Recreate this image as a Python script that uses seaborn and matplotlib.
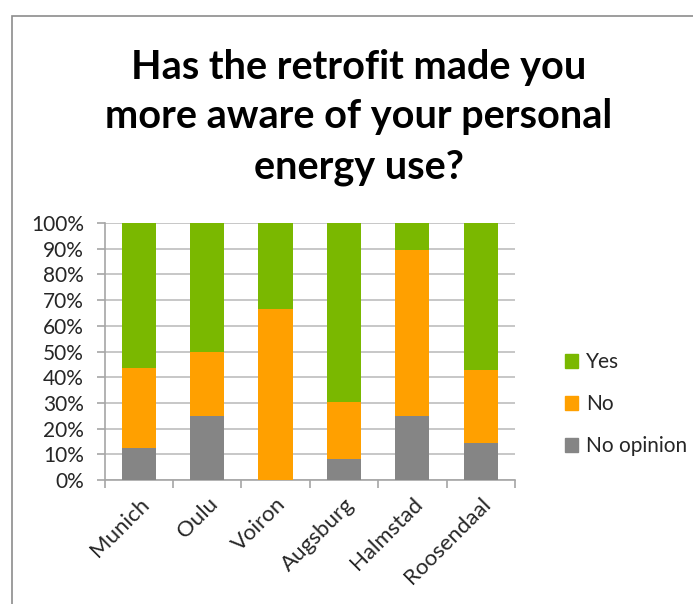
import matplotlib
matplotlib.use("Agg")
import matplotlib.pyplot as plt
import matplotlib.patches as mpatches
from matplotlib.ticker import FixedLocator
import seaborn as sns
import pandas as pd
import numpy as np

cities = ["Munich", "Oulu", "Voiron", "Augsburg", "Halmstad", "Roosendaal"]
no_opinion = [12.5, 25.0, 0.0, 8.3, 25.0, 14.3]
no = [31.25, 25.0, 66.7, 22.0, 64.3, 28.6]
yes = [56.25, 50.0, 33.3, 69.7, 10.7, 57.1]
series_names = ["Yes", "No", "No opinion"]
colors = {"Yes": "#7AB800", "No": "#FFA000", "No opinion": "#858585"}

sns.set_theme(style="white")
plt.rcParams["font.family"] = ["Lato", "DejaVu Sans"]

fig = plt.figure(figsize=(6.93, 6.04), dpi=100)
ax = fig.add_axes([0.151, 0.205, 0.592, 0.426])

df = pd.DataFrame({"city": cities, "No opinion": no_opinion, "No": no, "Yes": yes})
df["c_gray"] = df["No opinion"]
df["c_no"] = df["No opinion"] + df["No"]
df["c_yes"] = df["c_no"] + df["Yes"]

for col, name in [("c_yes", "Yes"), ("c_no", "No"), ("c_gray", "No opinion")]:
    sns.barplot(data=df, x="city", y=col, color=colors[name], width=0.5,
                saturation=1, ax=ax, zorder=3, linewidth=0)

ax.set_ylim(0, 100)
ax.set_xlim(-0.5, len(cities) - 0.5)
ax.set_yticks(np.arange(0, 101, 10))
ax.set_yticklabels([f"{v}%" for v in range(0, 101, 10)], fontsize=15, color="#262626")
ax.yaxis.grid(True, color="#BEBEBE", linewidth=1.2, zorder=0)
ax.set_axisbelow(True)
ax.set_xlabel("")
ax.set_ylabel("")
for s in ["top", "right"]:
    ax.spines[s].set_visible(False)
for s in ["left", "bottom"]:
    ax.spines[s].set_color("#A6A6A6")
    ax.spines[s].set_linewidth(1.2)
ax.tick_params(axis="y", which="major", left=True, length=6, width=1.2, color="#A6A6A6", pad=9)
ax.xaxis.set_minor_locator(FixedLocator(np.arange(-0.5, len(cities), 1.0)))
ax.tick_params(axis="x", which="minor", bottom=True, length=6, width=1.2, color="#A6A6A6")
ax.tick_params(axis="x", which="major", bottom=False, length=0, pad=10)
ax.set_xticks(range(len(cities)))
ax.set_xticklabels(cities, rotation=45, ha="right", rotation_mode="anchor",
                   fontsize=16, color="#262626")

handles = [mpatches.Patch(color=colors[n], label=n) for n in series_names]
fig.legend(handles=handles, loc="center left", bbox_to_anchor=(0.788, 0.331),
           frameon=False, fontsize=15, handlelength=0.65, handleheight=0.65,
           handletextpad=0.35, labelspacing=1.05, labelcolor="#262626")

fig.text(0.518, 0.806, "Has the retrofit made you\nmore aware of your personal\nenergy use?",
         ha="center", va="center", fontsize=28.5, fontweight="bold",
         linespacing=1.42, color="#000000")

frame = mpatches.Rectangle((12 / 693, -0.05), 1.2, (604 - 16) / 604 + 0.05,
                           transform=fig.transFigure, fill=False,
                           edgecolor="#8C8C8C", linewidth=1.2)
fig.patches.append(frame)

fig.savefig("out.png", dpi=100, facecolor="white")
